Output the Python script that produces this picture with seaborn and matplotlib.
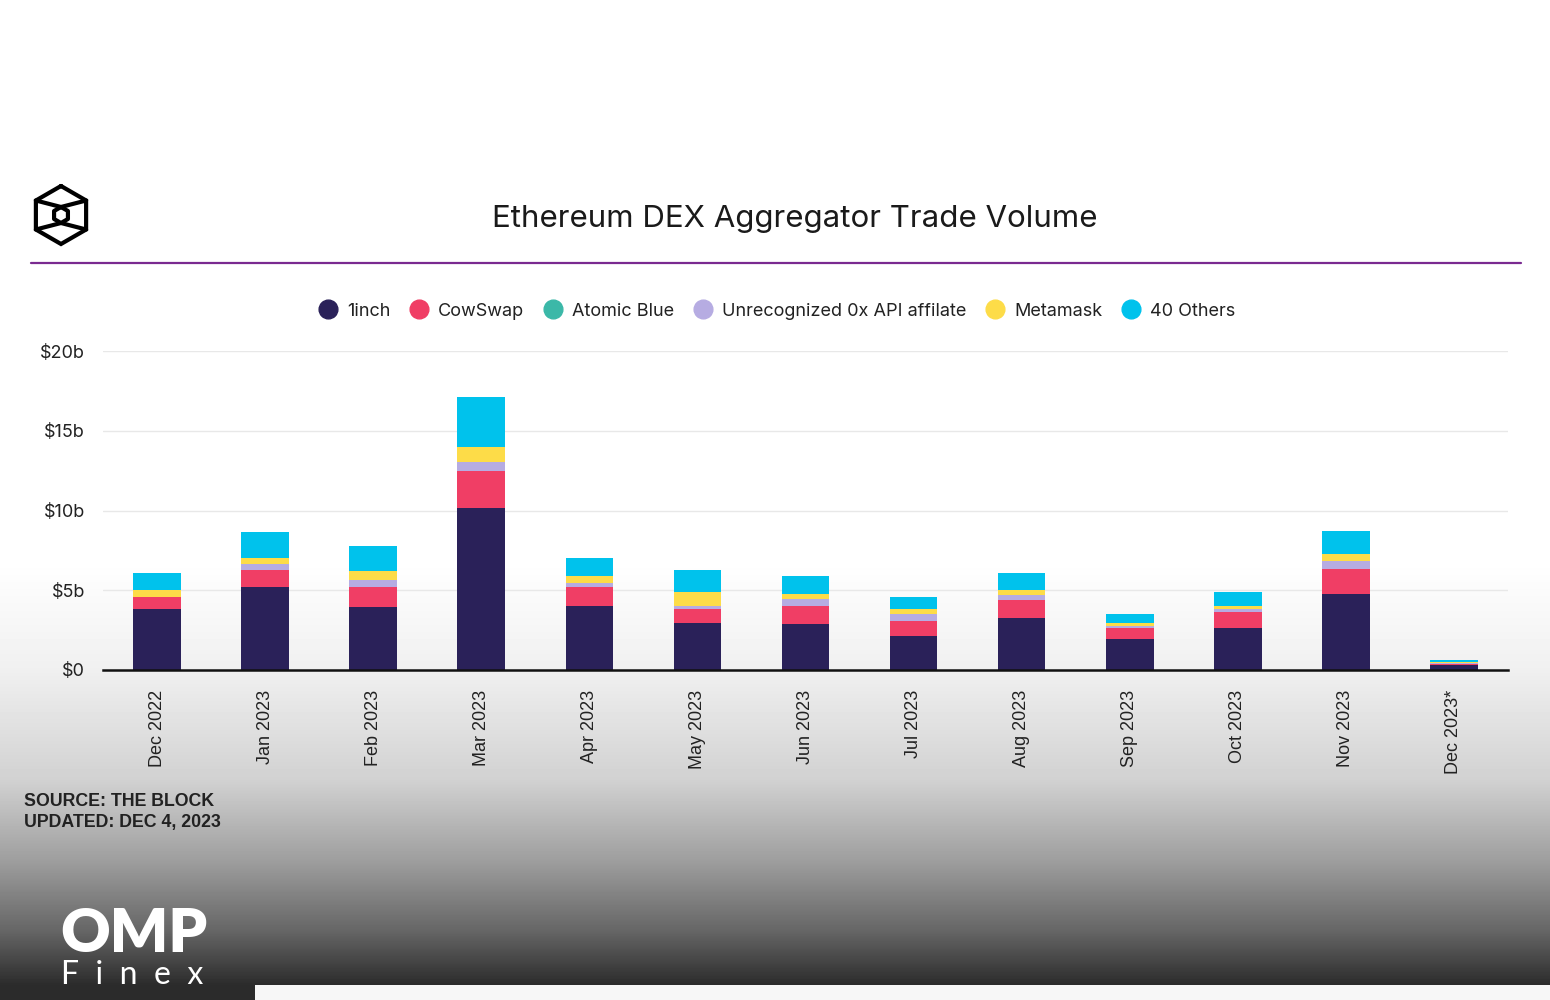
import matplotlib.pyplot as plt
import numpy as np
import pandas as pd
import seaborn as sns
from matplotlib.lines import Line2D
from matplotlib.patches import Rectangle

sns.set_theme(style="white")
plt.rcParams["font.family"] = ["Inter", "DejaVu Sans"]

months = ["Dec 2022", "Jan 2023", "Feb 2023", "Mar 2023", "Apr 2023", "May 2023", "Jun 2023",
          "Jul 2023", "Aug 2023", "Sep 2023", "Oct 2023", "Nov 2023", "Dec 2023*"]
series = ["1inch", "CowSwap", "Atomic Blue", "Unrecognized 0x API affilate", "Metamask", "40 Others"]
colors = ["#2a2159", "#f03e65", "#3bb8a8", "#b6ace2", "#fddc48", "#00c2ec"]

# $ billions
inch = [3.83, 5.21, 3.92, 10.15, 4.04, 2.96, 2.88, 2.13, 3.29, 1.92, 2.65, 4.79, 0.30]
cowswap = [0.75, 1.08, 1.29, 2.35, 1.19, 0.87, 1.16, 0.95, 1.09, 0.73, 0.98, 1.52, 0.10]
atomic_blue = [0, 0, 0, 0, 0, 0, 0, 0, 0, 0, 0, 0, 0]
unrecognized = [0.0, 0.33, 0.42, 0.54, 0.23, 0.21, 0.42, 0.44, 0.31, 0.10, 0.20, 0.50, 0.02]
metamask = [0.42, 0.42, 0.56, 0.96, 0.42, 0.86, 0.33, 0.29, 0.31, 0.21, 0.21, 0.44, 0.06]
others = [1.08, 1.60, 1.60, 3.13, 1.16, 1.40, 1.09, 0.77, 1.08, 0.54, 0.86, 1.44, 0.12]

yticks = [0, 5, 10, 15, 20]
ytick_labels = ["$0", "$5b", "$10b", "$15b", "$20b"]

values = pd.DataFrame(
    {"1inch": inch, "CowSwap": cowswap, "Atomic Blue": atomic_blue,
     "Unrecognized 0x API affilate": unrecognized, "Metamask": metamask, "40 Others": others},
    index=months,
)
stacked = values.cumsum(axis=1)

fig = plt.figure(figsize=(15.5, 10), dpi=100)

# background: white fading to dark grey at the bottom
bg = fig.add_axes([0, 0, 1, 1], zorder=-10)
ypix = np.arange(1000)
shade = np.interp(ypix, [0, 560, 670, 780, 860, 930, 985], [1.0, 1.0, 0.94, 0.82, 0.62, 0.40, 0.17])
bg.imshow(np.repeat(shade[:, None], 10, axis=1), cmap="gray", vmin=0, vmax=1,
          aspect="auto", extent=[0, 1550, 1000, 0])
bg.add_patch(Rectangle((255, 985), 1295, 15, color="#f7f7f7", lw=0))
bg.set_xlim(0, 1550)
bg.set_ylim(1000, 0)
bg.axis("off")

# header: cube logo, title, purple rule
cx, cy, r = 61, 215, 29
ang = np.deg2rad(np.arange(90, 451, 60))
hx, hy = cx + r * np.cos(ang), cy - r * np.sin(ang)
bg.plot(hx, hy, color="black", lw=3, solid_joinstyle="miter")
ri = 8
ix, iy = cx + ri * np.cos(ang), cy - ri * np.sin(ang)
bg.plot(ix, iy, color="black", lw=3)
bg.plot([hx[1], ix[0], hx[5]], [hy[1], iy[0], hy[5]], color="black", lw=3)
bg.plot([hx[2], ix[3], hx[4]], [hy[2], iy[3], hy[4]], color="black", lw=3)
bg.plot([31, 1521], [263, 263], color="#7a2a90", lw=1.6)
bg.text(795, 219, "Ethereum DEX Aggregator Trade Volume", fontsize=22.5, ha="center", va="center",
        color="#1a1a1a")

bg.text(24, 801, "SOURCE: THE BLOCK", family="Liberation Sans", fontweight="bold", fontsize=12.8,
        color="#222222", va="center")
bg.text(24, 822, "UPDATED: DEC 4, 2023", family="Liberation Sans", fontweight="bold", fontsize=12.8,
        color="#222222", va="center")
bg.text(60, 934, "OMP", family="Lato", fontweight="heavy", fontsize=44, color="white", va="center")
bg.text(61, 975, "F  i  n  e  x", family="Lato", fontweight="normal", fontsize=23, color="white",
        va="center")

ax = fig.add_axes([103 / 1550, 0.33, 1405 / 1550, 0.319])
ax.set_facecolor("none")
for i in range(len(series) - 1, -1, -1):
    sns.barplot(x=months, y=stacked.iloc[:, i].to_numpy(), order=months, color=colors[i],
                width=0.44, saturation=1, linewidth=0, ax=ax)

ax.set_ylim(0, 20)
ax.set_xlim(-0.5, len(months) - 0.5)
ax.set_yticks(yticks)
ax.set_yticklabels(ytick_labels, fontsize=13, color="#222222")
ax.yaxis.grid(True, color="#e8e8e8", lw=1)
ax.set_axisbelow(True)
ax.set_xticks(range(len(months)))
ax.set_xticklabels(months, rotation=90, family="Liberation Sans", fontsize=13, color="#222222")
ax.tick_params(axis="x", length=0, pad=14)
ax.tick_params(axis="y", length=0, pad=13)
for side in ["left", "right", "top"]:
    ax.spines[side].set_visible(False)
ax.spines["bottom"].set_color("#111111")
ax.spines["bottom"].set_linewidth(1.8)
ax.set_xlabel("")
ax.set_ylabel("")

handles = [Line2D([], [], marker="o", ls="", markersize=13.5, markerfacecolor=c, markeredgecolor=c)
           for c in colors]
fig.legend(handles, series, loc="center", bbox_to_anchor=(0.5015, 0.689), ncol=6, frameon=False,
           fontsize=13, handlelength=1.0, handletextpad=0.55, columnspacing=1.1,
           labelcolor="#222222")

fig.savefig("out.png", dpi=100)
